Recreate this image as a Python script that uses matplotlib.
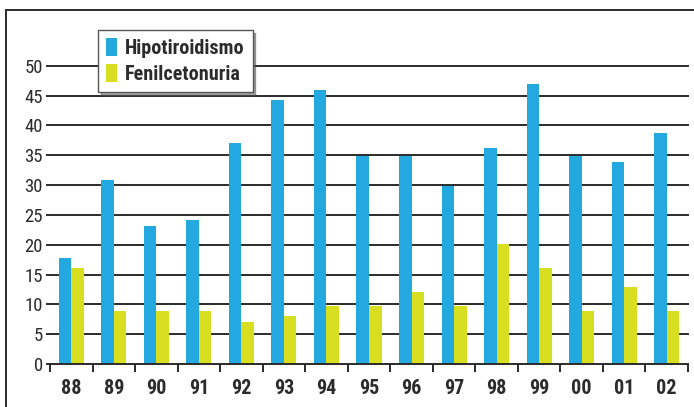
import matplotlib
matplotlib.use("Agg")
import matplotlib.pyplot as plt
import numpy as np
from matplotlib.patches import Rectangle
from matplotlib.font_manager import FontProperties

years = ["88", "89", "90", "91", "92", "93", "94", "95", "96", "97", "98", "99", "00", "01", "02"]
hipotiroidismo = [17.8, 30.8, 23.1, 24.1, 37.0, 44.2, 45.9, 34.8, 34.8, 29.8, 36.2, 46.9, 34.8, 33.8, 38.8]
fenilcetonuria = [16.1, 8.9, 8.9, 8.9, 7.1, 8.1, 9.8, 9.8, 12.1, 9.8, 20.1, 16.1, 8.9, 12.9, 8.9]
yticks = [0, 5, 10, 15, 20, 25, 30, 35, 40, 45, 50]

BLUE = "#23A8E0"
YELLOW = "#D8DF20"
DARK = "#2b2b2b"

W, H = 694, 407
fig = plt.figure(figsize=(W / 100, H / 100), dpi=100)

# outer frame
fig.patches.append(Rectangle((6 / W, -0.1), 1.2, (H - 10) / H + 0.1, transform=fig.transFigure,
                             fill=False, edgecolor=DARK, linewidth=1.4, figure=fig))

left, right = 50 / W, 688 / W
bottom, top = (H - 364) / H, (H - 65.7) / H
ax = fig.add_axes([left, bottom, right - left, top - bottom])

x = np.arange(len(years))
w = 0.294
ax.bar(x - w / 2, hipotiroidismo, width=w, color=BLUE, label="Hipotiroidismo", zorder=3)
ax.bar(x + w / 2, fenilcetonuria, width=w, color=YELLOW, label="Fenilcetonuria", zorder=3)

ax.set_xlim(-0.5, len(years) - 0.5)
ax.set_ylim(0, 50)

for yv in yticks[1:]:
    ax.axhline(yv, color=DARK, linewidth=1.4, zorder=1, clip_on=False)

for s in ["top", "right", "left"]:
    ax.spines[s].set_visible(False)
ax.spines["bottom"].set_color(DARK)
ax.spines["bottom"].set_linewidth(1.4)
ax.spines["bottom"].set_zorder(4)

cond = "Roboto Condensed"
ax.set_yticks(yticks)
ax.set_yticklabels([str(v) for v in yticks], fontsize=13.5, family=cond, color=DARK)
ax.tick_params(axis="y", length=3, width=1.4, color=DARK, pad=2)

ax.set_xticks(x)
ax.set_xticklabels(years, fontsize=14.5, family=cond, fontweight="bold", color=DARK)
ax.tick_params(axis="x", which="major", length=0, pad=11)
ax.set_xticks(np.arange(-0.5, len(years)), minor=True)
ax.tick_params(axis="x", which="minor", length=6, width=1.4, color=DARK, direction="out")

leg = ax.legend(loc="upper left", bbox_to_anchor=(0.075, 1.12), borderaxespad=0,
                prop=FontProperties(family=cond, weight="bold", size=14.5),
                frameon=True, fancybox=False, shadow=True, edgecolor="#555555",
                handlelength=0.55, handleheight=1.0, handletextpad=0.4,
                labelspacing=0.3, borderpad=0.4)
leg.get_frame().set_linewidth(1.0)
for t in leg.get_texts():
    t.set_color(DARK)

fig.savefig("out.png", dpi=100)
